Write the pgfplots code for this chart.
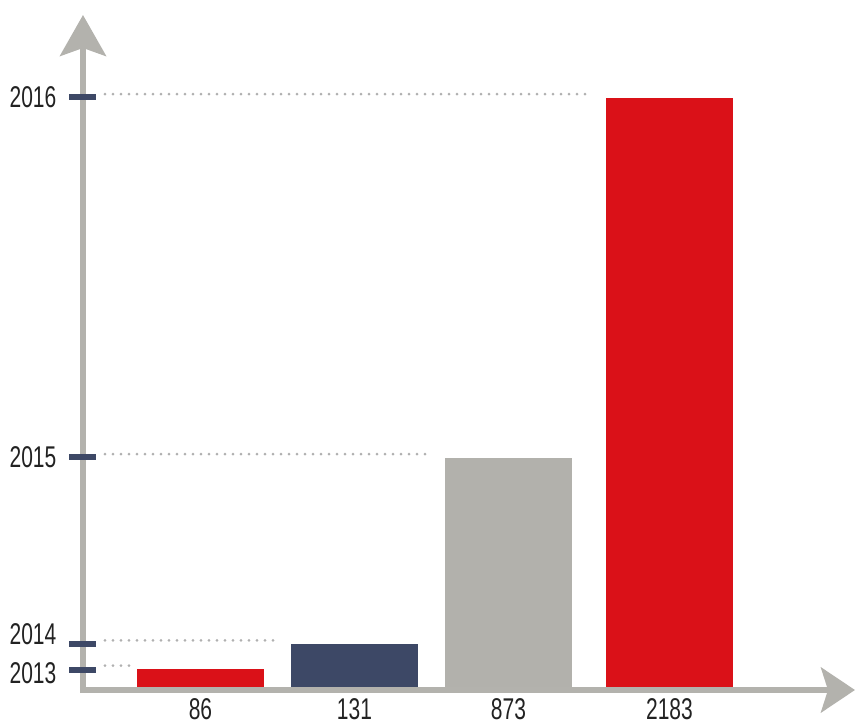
\documentclass[border=0pt]{standalone}
\usepackage{fontspec}
\setmainfont{Liberation Sans}[FakeStretch=0.7]
\usepackage{pgfplots}
\pgfplotsset{compat=1.18}
\usetikzlibrary{arrows.meta}
\definecolor{cred}{HTML}{DA1118}
\definecolor{cnavy}{HTML}{3D4866}
\definecolor{cgray}{HTML}{B2B1AC}
\definecolor{caxis}{HTML}{B3B2AD}
\definecolor{cdot}{HTML}{B0B0B0}
\definecolor{ctext}{HTML}{222222}
\begin{document}
\begin{tikzpicture}
\begin{axis}[
  at={(0,0)}, anchor=south west,
  scale only axis, width=772pt, height=675pt,
  xmin=83, xmax=855, ymin=0, ymax=2489,
  clip=false, axis on top,
  axis line style={draw=none},
  xtick={200.5,354.5,508.5,669.5},
  xticklabels={86,131,873,2183},
  ytick={74,168,859,2185},
  yticklabels={{\raisebox{-3pt}[\height][\depth]{2013}},{\raisebox{10pt}[\height][\depth]{2014}},2015,2016},
  xtick pos=bottom, ytick pos=left,
  x tick style={draw=none},
  y tick style={draw=cnavy, line width=6pt},
  major tick length=27pt, tick align=center,
  ticklabel style={font=\fontsize{30}{36}\selectfont, text=ctext},
  xticklabel style={anchor=north, inner sep=0pt, yshift=5pt},
  yticklabel style={anchor=east, inner sep=0pt, xshift=-13pt},
]
% dotted guide lines
\addplot[draw=cdot, line width=3pt, line cap=round, dash pattern=on 0pt off 8pt] coordinates {(105,2197) (590,2197)};
\addplot[draw=cdot, line width=3pt, line cap=round, dash pattern=on 0pt off 8pt] coordinates {(105,870) (426,870)};
\addplot[draw=cdot, line width=3pt, line cap=round, dash pattern=on 0pt off 8pt] coordinates {(105,183) (279,183)};
\addplot[draw=cdot, line width=3pt, line cap=round, dash pattern=on 0pt off 8pt] coordinates {(105,90) (129,90)};
% bars
\addplot[ybar, bar width=127, bar shift=0pt, fill=cred, draw=none] coordinates {(200.5,77.4)};
\addplot[ybar, bar width=127, bar shift=0pt, fill=cnavy, draw=none] coordinates {(354.5,169.6)};
\addplot[ybar, bar width=127, bar shift=0pt, fill=cgray, draw=none] coordinates {(508.5,855.5)};
\addplot[ybar, bar width=127, bar shift=0pt, fill=cred, draw=none] coordinates {(669.5,2183)};
% axis arrows
\draw[caxis, line width=6pt, -{Stealth[length=41pt, width=46pt, inset=8pt]}] ([yshift=-3pt]axis cs:83,0) -- (axis cs:83,2489);
\draw[caxis, line width=6pt, -{Stealth[length=34pt, width=45pt, inset=7pt]}] ([xshift=-3pt]axis cs:83,0) -- (axis cs:855,0);
\end{axis}
\pgfresetboundingbox
\path[use as bounding box] (-83pt,-34pt) rectangle (772pt,690pt);
\end{tikzpicture}
\end{document}
